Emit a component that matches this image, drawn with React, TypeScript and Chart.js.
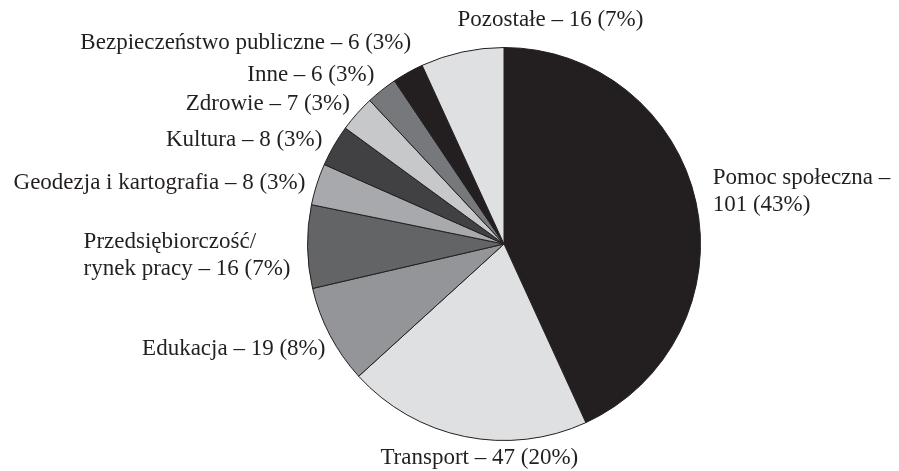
import React, { useEffect, useRef } from "react";
import { Chart, registerables } from "chart.js";

Chart.register(...registerables);

// ---- data ----
const categories: string[] = [
  "Pomoc społeczna",
  "Transport",
  "Edukacja",
  "Przedsiębiorczość/\nrynek pracy",
  "Geodezja i kartografia",
  "Kultura",
  "Zdrowie",
  "Inne",
  "Bezpieczeństwo publiczne",
  "Pozostałe",
];
const values: number[] = [101, 47, 19, 16, 8, 8, 7, 6, 6, 16];
const sliceColors: string[] = [
  "#231f20",
  "#dfe0e2",
  "#939598",
  "#636466",
  "#a7a9ac",
  "#414042",
  "#c7c8ca",
  "#77787b",
  "#231f20",
  "#dfe0e2",
];

// ---- label layout (alignment + small nudges from the slice's mid-angle anchor) ----
const labelAlign: CanvasTextAlign[] = [
  "left", "center", "right", "right", "right", "right", "right", "right", "right", "left",
];
const labelNudge: [number, number][] = [
  [5, -8],
  [17, 9.5],
  [6, 8.5],
  [-5, 9],
  [0, 2],
  [-1, 0],
  [2, -2],
  [0, -6],
  [9, -19],
  [-2, -20],
];
const LABEL_GAP = 12;
const LINE_HEIGHT = 27;
const FONT = '23px "Liberation Serif", "Times New Roman", serif';
const TEXT_COLOR = "#231f20";

function labelLines(i: number, total: number): string[] {
  const pct = Math.round((values[i] / total) * 100);
  const tail = `${values[i]} (${pct}%)`;
  const name = categories[i];
  if (i === 0) return [`${name} –`, tail];
  const parts = name.split("\n");
  parts[parts.length - 1] = `${parts[parts.length - 1]} – ${tail}`;
  return parts;
}

const outsideLabels = {
  id: "outsideLabels",
  afterDatasetsDraw(chart: any) {
    const meta = chart.getDatasetMeta(0);
    const total = values.reduce((a, b) => a + b, 0);
    const ctx = chart.ctx as CanvasRenderingContext2D;
    ctx.save();
    ctx.font = FONT;
    ctx.fillStyle = TEXT_COLOR;
    ctx.textBaseline = "middle";
    meta.data.forEach((arc: any, i: number) => {
      const p = arc.getProps(["x", "y", "startAngle", "endAngle", "outerRadius"], true);
      const mid = (p.startAngle + p.endAngle) / 2;
      const R = p.outerRadius + LABEL_GAP;
      const ax = p.x + R * Math.cos(mid) + labelNudge[i][0];
      const ay = p.y + R * Math.sin(mid) + labelNudge[i][1];
      const lines = labelLines(i, total);
      const widths = lines.map((l) => ctx.measureText(l).width);
      const maxW = Math.max(...widths);
      const align = labelAlign[i];
      let x0: number;
      if (align === "left") x0 = ax;
      else if (align === "right") x0 = ax - maxW;
      else x0 = ax - maxW / 2;
      const top = ay - ((lines.length - 1) * LINE_HEIGHT) / 2;
      ctx.textAlign = "left";
      lines.forEach((l, k) => {
        const lx = align === "center" ? ax - widths[k] / 2 : x0;
        ctx.fillText(l, lx, top + k * LINE_HEIGHT);
      });
    });
    ctx.restore();
  },
};

export default function App() {
  const ref = useRef<HTMLCanvasElement | null>(null);
  useEffect(() => {
    document.body.style.margin = "0";
    document.body.style.background = "#ffffff";
    const chart = new Chart(ref.current as HTMLCanvasElement, {
      type: "pie",
      data: {
        labels: categories,
        datasets: [
          {
            data: values,
            backgroundColor: sliceColors,
            borderColor: "#231f20",
            borderWidth: 1,
          },
        ],
      },
      options: {
        responsive: false,
        animation: false,
        events: [],
        layout: { padding: { left: 307, right: 198, top: 47, bottom: 30 } },
        plugins: {
          legend: { display: false },
          tooltip: { enabled: false },
          title: { display: false },
        },
      },
      plugins: [outsideLabels],
    });
    return () => chart.destroy();
  }, []);
  return (
    <div style={{ position: "absolute", left: 0, top: 0, width: 899, height: 471, background: "#fff" }}>
      <canvas ref={ref} width={899} height={471} />
    </div>
  );
}
